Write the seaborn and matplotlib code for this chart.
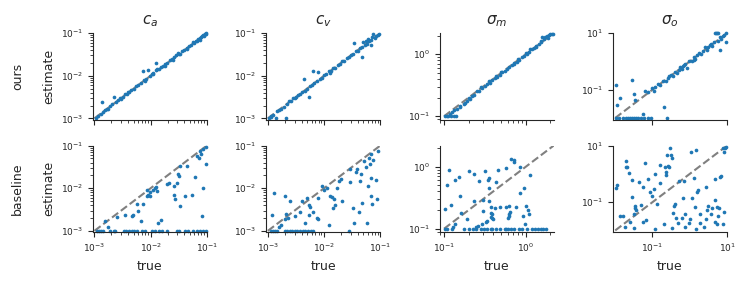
import numpy as np
import pandas as pd
import seaborn as sns
import matplotlib
matplotlib.use("Agg")
import matplotlib.pyplot as plt
from matplotlib.ticker import FixedLocator, NullLocator

# values are log10(true), log10(estimate)
params = ["c_a", "c_v", "sigma_m", "sigma_o"]
titles = [r"$c_a$", r"$c_v$", r"$\sigma_m$", r"$\sigma_o$"]
methods = ["ours", "baseline"]

# log10 range of each parameter (axis limits / identity line)
ranges = {"c_a": (-3.0, -1.0), "c_v": (-3.0, -1.0), "sigma_m": (-1.0, 0.34), "sigma_o": (-2.0, 1.0)}
pads = {"c_a": 0.03, "c_v": 0.03, "sigma_m": 0.055, "sigma_o": 0.06}

ca_ours = [(-2.97, -2.98), (-2.93, -2.95), (-2.88, -2.90), (-2.87, -2.62), (-2.82, -2.80), (-2.78, -2.79),
           (-2.72, -2.70), (-2.68, -2.66), (-2.66, -2.50), (-2.62, -2.62), (-2.58, -2.57), (-2.55, -2.52),
           (-2.50, -2.50), (-2.46, -2.44), (-2.42, -2.43), (-2.38, -2.37), (-2.35, -2.33), (-2.30, -2.31),
           (-2.26, -2.24), (-2.22, -2.21), (-2.18, -2.18), (-2.14, -1.89), (-2.12, -2.10), (-2.08, -2.07),
           (-2.04, -1.87), (-2.02, -2.00), (-1.98, -1.96), (-1.95, -1.93), (-1.91, -1.69), (-1.90, -1.87),
           (-1.88, -1.85), (-1.85, -1.84), (-1.82, -1.80), (-1.78, -1.77), (-1.74, -1.73), (-1.70, -1.69),
           (-1.66, -1.64), (-1.62, -1.61), (-1.58, -1.57), (-1.54, -1.52), (-1.51, -1.46), (-1.50, -1.48),
           (-1.47, -1.49), (-1.44, -1.43), (-1.40, -1.39), (-1.36, -1.35), (-1.32, -1.31), (-1.28, -1.27),
           (-1.24, -1.22), (-1.20, -1.18), (-1.18, -1.19), (-1.15, -1.14), (-1.12, -1.11), (-1.10, -1.09),
           (-1.08, -1.07), (-1.06, -1.05), (-1.04, -1.03), (-1.02, -1.02), (-1.01, -1.00), (-1.22, -1.24),
           (-1.60, -1.63), (-2.40, -2.38), (-2.75, -2.77), (-1.95, -1.97), (-2.85, -2.86), (-2.53, -2.55),
           (-1.35, -1.37), (-1.13, -1.15), (-1.05, -1.06), (-2.10, -2.12), (-1.75, -1.76), (-1.03, -1.01)]

cv_ours = [(-2.98, -2.99), (-2.94, -2.95), (-2.90, -2.92), (-2.86, -3.00), (-2.84, -2.82), (-2.80, -2.80),
           (-2.76, -2.77), (-2.72, -2.73), (-2.68, -3.00), (-2.66, -2.66), (-2.62, -2.60), (-2.58, -2.60),
           (-2.55, -2.53), (-2.51, -2.52), (-2.47, -2.45), (-2.43, -2.44), (-2.40, -2.38), (-2.35, -2.07),
           (-2.34, -2.35), (-2.30, -2.30), (-2.27, -2.50), (-2.25, -2.24), (-2.21, -2.22), (-2.20, -1.89),
           (-2.17, -2.16), (-2.13, -2.13), (-2.10, -1.91), (-2.08, -2.07), (-2.04, -2.05), (-2.00, -1.98),
           (-1.96, -1.97), (-1.92, -1.90), (-1.88, -1.89), (-1.84, -1.82), (-1.80, -1.81), (-1.76, -1.75),
           (-1.72, -1.73), (-1.68, -1.66), (-1.64, -1.65), (-1.60, -1.58), (-1.56, -1.57), (-1.52, -1.51),
           (-1.48, -1.49), (-1.46, -1.24), (-1.44, -1.43), (-1.40, -1.41), (-1.36, -1.35), (-1.33, -1.57),
           (-1.32, -1.33), (-1.30, -1.22), (-1.28, -1.27), (-1.24, -1.25), (-1.22, -1.14), (-1.20, -1.19),
           (-1.17, -1.28), (-1.16, -1.16), (-1.12, -1.02), (-1.10, -1.11), (-1.07, -1.06), (-1.04, -1.05),
           (-1.02, -1.02), (-1.25, -1.18), (-1.90, -1.93), (-2.50, -2.49), (-2.95, -2.97), (-1.14, -1.10)]

sm_ours = [(-0.99, -1.00), (-0.97, -1.00), (-0.95, -0.99), (-0.92, -1.00), (-0.88, -1.00), (-0.85, -1.00),
           (-0.93, -0.96), (-0.88, -0.90), (-0.84, -0.88), (-0.80, -0.85), (-0.76, -0.80), (-0.72, -0.75),
           (-0.70, -0.71), (-0.66, -0.68), (-0.63, -0.65), (-0.60, -0.60), (-0.57, -0.59), (-0.54, -0.55),
           (-0.50, -0.52), (-0.47, -0.48), (-0.44, -0.46), (-0.41, -0.42), (-0.38, -0.38), (-0.35, -0.37),
           (-0.32, -0.33), (-0.29, -0.29), (-0.26, -0.27), (-0.23, -0.24), (-0.20, -0.20), (-0.17, -0.18),
           (-0.14, -0.14), (-0.11, -0.12), (-0.08, -0.09), (-0.05, -0.05), (-0.02, -0.03), (0.01, 0.00),
           (0.04, 0.04), (0.07, 0.08), (0.10, 0.10), (0.13, 0.14), (0.16, 0.17), (0.19, 0.20),
           (0.22, 0.24), (0.24, 0.28), (0.26, 0.30), (0.28, 0.31), (0.30, 0.32), (0.32, 0.33),
           (0.33, 0.33), (0.20, 0.27), (0.05, 0.08), (-0.10, -0.07), (-0.30, -0.28), (-0.55, -0.53),
           (-0.80, -0.84), (-0.68, -0.72), (-0.45, -0.44), (-0.15, -0.16), (0.12, 0.12), (0.27, 0.26),
           (-0.90, -0.93), (-0.75, -0.78), (-0.36, -0.35), (0.00, 0.02), (0.18, 0.21)]

so_ours = [(-1.97, -2.0), (-1.90, -2.0), (-1.80, -2.0), (-1.72, -2.0), (-1.66, -2.0), (-1.60, -2.0),
           (-1.55, -2.0), (-1.50, -2.0), (-1.44, -2.0), (-1.38, -2.0), (-1.30, -2.0), (-1.22, -2.0),
           (-1.12, -2.0), (-1.05, -2.0), (-0.60, -2.0),
           (-1.97, -0.82), (-1.95, -1.53), (-1.86, -1.31), (-1.55, -0.66), (-1.50, -1.15), (-1.46, -1.36),
           (-1.26, -1.86), (-1.19, -1.04), (-1.11, -1.07), (-0.69, -1.60),
           (-1.00, -0.95), (-0.97, -1.05), (-0.92, -0.90), (-0.85, -0.80), (-0.80, -0.84), (-0.72, -0.70),
           (-0.65, -0.68), (-0.58, -0.60), (-0.50, -0.47), (-0.45, -0.50), (-0.40, -0.38), (-0.35, -0.42),
           (-0.30, -0.30), (-0.26, -0.20), (-0.22, -0.28), (-0.18, -0.15), (-0.12, -0.10), (-0.08, -0.22),
           (-0.02, 0.00), (0.05, 0.02), (0.10, 0.15), (0.15, 0.10), (0.20, 0.22), (0.25, 0.30),
           (0.30, 0.25), (0.35, 0.38), (0.40, 0.52), (0.45, 0.42), (0.50, 0.50), (0.55, 0.58),
           (0.60, 0.55), (0.65, 0.70), (0.67, 1.00), (0.70, 1.00), (0.73, 1.00), (0.76, 1.00),
           (0.80, 0.85), (0.81, 0.41), (0.85, 0.80), (0.90, 0.90), (0.93, 0.95), (0.96, 0.69),
           (0.98, 1.00), (-0.55, -0.52), (-0.15, -0.12), (0.12, 0.05), (0.58, 0.62), (0.75, 0.72)]

ca_base = [(-2.96, -3.0), (-2.92, -3.0), (-2.88, -3.0), (-2.84, -3.0), (-2.72, -3.0), (-2.66, -3.0),
           (-2.63, -3.0), (-2.48, -3.0), (-2.44, -3.0), (-2.39, -3.0), (-2.34, -3.0), (-2.29, -3.0),
           (-2.25, -3.0), (-2.16, -3.0), (-2.10, -3.0), (-1.98, -3.0), (-1.93, -3.0), (-1.86, -3.0),
           (-1.80, -3.0), (-1.71, -3.0), (-1.53, -3.0), (-1.49, -3.0), (-1.39, -3.0), (-1.34, -3.0),
           (-1.24, -3.0), (-1.18, -3.0), (-1.12, -3.0), (-1.06, -3.0), (-1.02, -3.0),
           (-2.81, -2.78), (-2.76, -2.90), (-2.60, -2.68), (-2.45, -2.62), (-2.34, -2.66), (-2.32, -2.62),
           (-2.25, -2.38), (-2.22, -2.53), (-2.13, -2.37), (-2.17, -2.76), (-2.07, -2.19), (-2.04, -2.15),
           (-2.01, -2.19), (-2.07, -2.03), (-1.95, -2.03), (-1.92, -1.99), (-1.89, -2.07), (-1.87, -2.82),
           (-1.81, -2.74), (-1.71, -1.89), (-1.67, -1.87), (-1.59, -1.95), (-1.58, -2.16), (-1.56, -2.26),
           (-1.53, -1.87), (-1.52, -1.66), (-1.49, -1.71), (-1.47, -2.42), (-1.39, -2.19), (-1.47, -1.49),
           (-1.36, -1.49), (-1.27, -2.17), (-1.21, -1.74), (-1.14, -1.28), (-1.10, -1.20), (-1.06, -1.99),
           (-1.09, -2.66), (-1.02, -1.42), (-1.18, -1.24), (-1.06, -1.08), (-1.02, -1.04), (-1.12, -1.12),
           (-1.91, -1.96), (-2.02, -2.08)]

cv_base = [(-2.95, -3.0), (-2.90, -3.0), (-2.87, -3.0), (-2.83, -3.0), (-2.70, -3.0), (-2.66, -3.0),
           (-2.61, -3.0), (-2.57, -3.0), (-2.52, -3.0), (-2.48, -3.0), (-2.42, -3.0), (-2.37, -3.0),
           (-2.33, -3.0), (-2.28, -3.0), (-2.24, -3.0), (-2.19, -3.0), (-1.56, -3.0),
           (-2.93, -2.62), (-2.89, -2.11), (-2.80, -2.90), (-2.77, -2.87), (-2.69, -2.19), (-2.67, -2.60),
           (-2.70, -2.72), (-2.64, -2.71), (-2.60, -2.29), (-2.51, -2.66), (-2.43, -2.56), (-2.40, -2.30),
           (-2.34, -2.82), (-2.30, -2.24), (-2.27, -2.40), (-2.25, -2.43), (-2.27, -2.62), (-2.19, -2.56),
           (-2.13, -2.70), (-2.10, -2.73), (-2.10, -2.24), (-2.04, -1.95), (-2.00, -2.03), (-1.95, -2.00),
           (-1.92, -2.86), (-1.89, -2.19), (-1.86, -2.21), (-1.83, -2.26), (-1.84, -2.46), (-1.80, -2.40),
           (-1.77, -2.00), (-1.74, -1.83), (-1.70, -1.79), (-1.68, -2.30), (-1.53, -1.85), (-1.53, -1.55),
           (-1.48, -2.46), (-1.46, -2.82), (-1.44, -1.61), (-1.41, -1.54), (-1.38, -2.56), (-1.36, -1.83),
           (-1.34, -1.67), (-1.32, -2.34), (-1.29, -1.37), (-1.26, -1.51), (-1.24, -2.82), (-1.22, -1.95),
           (-1.18, -1.42), (-1.17, -2.19), (-1.17, -1.77), (-1.16, -1.20), (-1.14, -2.38), (-1.12, -1.34),
           (-1.08, -1.81), (-1.06, -2.25), (-1.04, -1.12), (-1.20, -1.28)]

sm_base = [(-0.99, -1.0), (-0.97, -1.0), (-0.90, -1.0), (-0.76, -1.0), (-0.69, -1.0), (-0.65, -1.0),
           (-0.61, -1.0), (-0.55, -1.0), (-0.51, -1.0), (-0.47, -1.0), (-0.43, -1.0), (-0.41, -1.0),
           (-0.36, -1.0), (-0.32, -1.0), (-0.26, -1.0), (-0.24, -1.0), (-0.22, -1.0), (-0.18, -1.0),
           (-0.14, -1.0), (-0.08, -1.0), (-0.05, -1.0), (0.01, -1.0), (0.08, -1.0), (0.11, -1.0),
           (0.15, -1.0), (0.18, -1.0), (0.21, -1.0), (0.25, -1.0),
           (-0.99, -0.68), (-0.97, -0.29), (-0.94, -0.06), (-0.92, -0.61), (-0.87, -0.22), (-0.89, -0.97),
           (-0.87, -0.93), (-0.82, -0.17), (-0.81, -0.48), (-0.79, -0.75), (-0.72, -0.84), (-0.70, -0.07),
           (-0.64, -0.55), (-0.63, -0.12), (-0.61, -0.97), (-0.59, -0.95), (-0.57, -0.23), (-0.54, -0.92),
           (-0.53, -0.53), (-0.52, -0.71), (-0.50, -0.07), (-0.49, -0.89), (-0.47, -0.87), (-0.46, -0.22),
           (-0.45, -0.19), (-0.45, -0.34), (-0.45, -0.56), (-0.43, -0.65), (-0.43, -0.74), (-0.42, -0.81),
           (-0.41, -0.83), (-0.41, -0.76), (-0.40, -0.85), (-0.38, -0.66), (-0.36, -0.24), (-0.34, -0.05),
           (-0.31, -0.65), (-0.24, -0.65), (-0.20, -0.63), (-0.24, -0.02), (-0.22, -0.82), (-0.21, -0.79),
           (-0.20, -0.76), (-0.19, -0.73), (-0.18, 0.13), (-0.15, 0.11), (-0.15, 0.07), (-0.12, -0.65),
           (-0.07, -0.42), (-0.07, -0.01), (-0.02, -0.35), (-0.04, -0.79), (-0.01, -0.93), (0.00, -0.63),
           (0.03, -0.70), (0.04, -0.76), (0.05, -0.13)]

so_base = [(-1.97, -0.50), (-1.95, -0.40), (-1.88, -1.49), (-1.78, -1.49), (-1.75, -1.88), (-1.72, 0.44),
           (-1.70, 0.23), (-1.68, 0.23), (-1.63, 0.03), (-1.60, -1.69), (-1.55, -0.82), (-1.55, -0.20),
           (-1.50, -1.41), (-1.48, -1.14), (-1.46, -1.22), (-1.44, -1.26), (-1.50, -1.90), (-1.37, -0.29),
           (-1.31, -1.11), (-1.26, -1.69), (-1.25, -0.47), (-1.19, 0.38), (-1.18, -1.64), (-1.13, -0.18),
           (-1.07, -0.64), (-1.02, -0.79), (-0.96, -0.52), (-0.93, -1.94), (-0.89, -1.06), (-0.93, 0.00),
           (-0.81, -0.32), (-0.81, 0.30), (-0.69, -1.78), (-0.67, 0.26), (-0.65, 0.06), (-0.63, -0.03),
           (-0.60, 0.67), (-0.58, 0.29), (-0.56, 0.23), (-0.54, 0.93), (-0.51, 0.65), (-0.49, 0.56),
           (-0.47, -1.92), (-0.45, -1.37), (-0.43, -1.14), (-0.40, -1.08), (-0.38, -1.55), (-0.31, -1.73),
           (-0.30, -0.26), (-0.22, -1.57), (-0.16, -0.26), (-0.19, -0.85), (-0.14, -1.41), (-0.12, -1.88),
           (-0.01, -1.73), (0.01, -1.61), (0.04, 0.79), (0.07, -0.85), (0.10, -0.15), (0.13, -1.18),
           (0.16, 0.85), (0.16, -1.96), (0.19, -0.64), (0.23, -0.56), (0.28, -1.43), (0.28, -1.73),
           (0.37, -1.88), (0.44, -1.61), (0.45, -1.26), (0.43, -0.47), (0.50, -1.14), (0.57, -1.41),
           (0.59, -1.22), (0.67, -0.17), (0.69, -0.94), (0.72, -1.76), (0.69, -1.69), (0.74, -1.18),
           (0.76, -1.49), (0.78, -1.22), (0.81, -0.12), (0.83, -0.09), (0.89, -1.76), (0.92, -1.35),
           (0.89, 0.91), (0.92, 0.77), (0.98, 0.96), (0.95, 0.93)]

points = {("ours", "c_a"): ca_ours, ("ours", "c_v"): cv_ours,
          ("ours", "sigma_m"): sm_ours, ("ours", "sigma_o"): so_ours,
          ("baseline", "c_a"): ca_base, ("baseline", "c_v"): cv_base,
          ("baseline", "sigma_m"): sm_base, ("baseline", "sigma_o"): so_base}

rows = []
for (m, p), pts in points.items():
    for lt, le in pts:
        rows.append({"method": m, "param": p, "true": 10 ** lt, "estimate": 10 ** le})
df = pd.DataFrame(rows)

sns.set_style("ticks")
plt.rcParams["font.family"] = ["DejaVu Sans"]
plt.rcParams["xtick.labelsize"] = 6.5
plt.rcParams["ytick.labelsize"] = 6.5

fig, axes = plt.subplots(2, 4, figsize=(7.48, 2.88), dpi=100, sharex="col")
fig.subplots_adjust(left=0.124, right=0.972, top=0.885, bottom=0.194, wspace=0.52, hspace=0.3)

for i, m in enumerate(methods):
    for j, p in enumerate(params):
        ax = axes[i, j]
        lo, hi = ranges[p]
        pad = pads[p]
        sub = df[(df["method"] == m) & (df["param"] == p)]
        ax.plot([10 ** lo, 10 ** hi], [10 ** lo, 10 ** hi], ls="--", color="gray", lw=1.5, zorder=1)
        sns.scatterplot(data=sub, x="true", y="estimate", ax=ax, s=7, linewidth=0,
                        color="tab:blue", zorder=2, clip_on=False)
        ax.set_xscale("log")
        ax.set_yscale("log")
        ax.set_xlim(10 ** (lo - pad), 10 ** hi)
        ax.set_ylim(10 ** (lo - pad), 10 ** hi)
        if p == "sigma_o":
            for axis in (ax.xaxis, ax.yaxis):
                axis.set_major_locator(FixedLocator([0.1, 10]))
                axis.set_minor_locator(NullLocator())
        ax.set_xlabel("true" if i == 1 else "", fontsize=9)
        ax.set_ylabel("estimate" if j == 0 else "", fontsize=9)
        if i == 0:
            ax.set_title(titles[j], fontsize=11)
        sns.despine(ax=ax)

for i, m in enumerate(methods):
    axes[i, 0].text(-0.66, 0.5, m, transform=axes[i, 0].transAxes, rotation=90,
                    ha="center", va="center", fontsize=9)

fig.savefig("out.png", dpi=100)
